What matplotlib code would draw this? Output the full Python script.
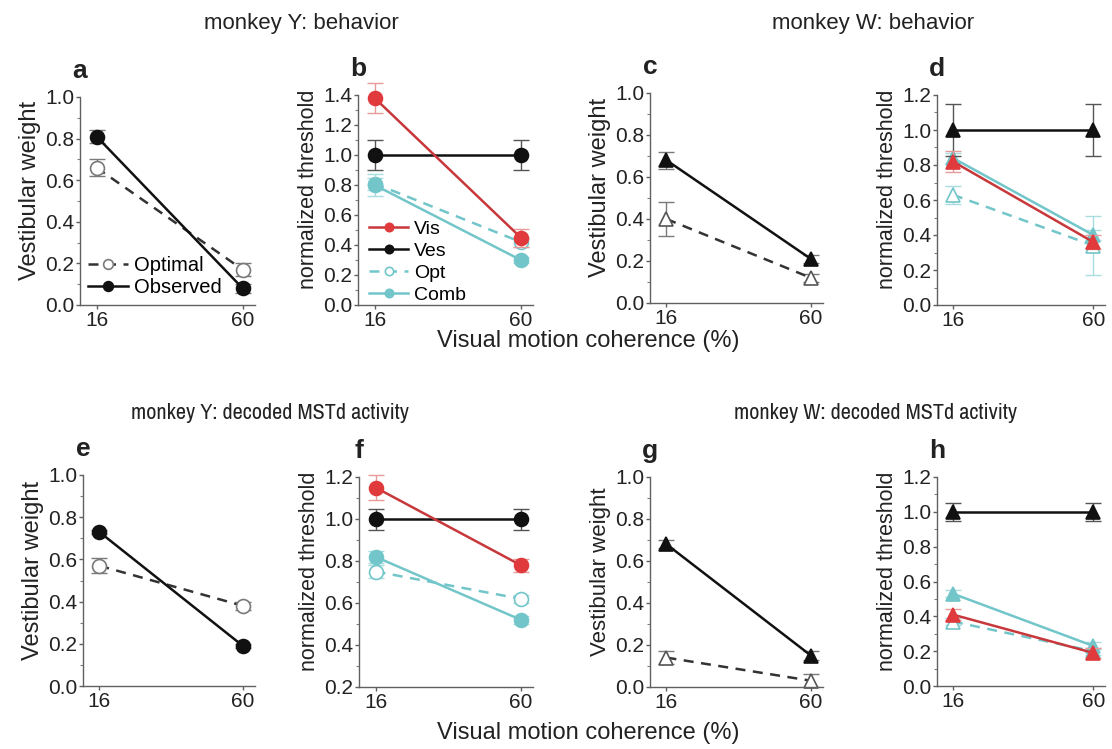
import matplotlib
matplotlib.use("Agg")
import matplotlib.pyplot as plt
from matplotlib import font_manager
from matplotlib.ticker import MultipleLocator, AutoMinorLocator

plt.rcParams['font.family'] = ['Liberation Sans', 'DejaVu Sans']

# visual motion coherence (%)
coherence = [16, 60]

# monkey Y behaviour: vestibular weights
a_opt, a_opt_err = [0.66, 0.17], [0.04, 0.03]
a_obs, a_obs_err = [0.81, 0.08], [0.03, 0.02]
# monkey Y behaviour: normalized thresholds
b_vis, b_vis_err = [1.38, 0.45], [0.10, 0.06]
b_ves, b_ves_err = [1.00, 1.00], [0.10, 0.10]
b_opt, b_opt_err = [0.81, 0.42], [0.04, 0.03]
b_comb, b_comb_err = [0.80, 0.30], [0.07, 0.02]
# monkey W behaviour
c_opt, c_opt_err = [0.40, 0.12], [0.08, 0.02]
c_obs, c_obs_err = [0.68, 0.21], [0.04, 0.02]
d_ves, d_ves_err = [1.00, 1.00], [0.15, 0.15]
d_vis, d_vis_err = [0.82, 0.36], [0.06, 0.04]
d_opt, d_opt_err = [0.63, 0.34], [0.05, 0.17]
d_comb, d_comb_err = [0.84, 0.40], [0.03, 0.03]
# monkey Y decoded MSTd
e_opt, e_opt_err = [0.57, 0.38], [0.035, 0.02]
e_obs, e_obs_err = [0.73, 0.19], [0.01, 0.01]
f_vis, f_vis_err = [1.15, 0.78], [0.06, 0.03]
f_ves, f_ves_err = [1.00, 1.00], [0.05, 0.05]
f_opt, f_opt_err = [0.75, 0.62], [0.03, 0.02]
f_comb, f_comb_err = [0.82, 0.52], [0.03, 0.02]
# monkey W decoded MSTd
g_opt, g_opt_err = [0.14, 0.03], [0.03, 0.03]
g_obs, g_obs_err = [0.68, 0.15], [0.02, 0.02]
h_ves, h_ves_err = [1.00, 1.00], [0.05, 0.05]
h_vis, h_vis_err = [0.41, 0.19], [0.03, 0.03]
h_opt, h_opt_err = [0.37, 0.20], [0.02, 0.02]
h_comb, h_comb_err = [0.53, 0.23], [0.02, 0.02]

RED = '#e03a3c'
RED_LINE = '#c8373a'
RED_ERR = '#e89a9a'
CYAN = '#72c6ca'
CYAN_ERR = '#a8dcde'
BLACK = '#111111'
GRAY = '#7a7a7a'
TXT = '#222222'

W, H = 1112, 749
fig = plt.figure(figsize=(W / 100, H / 100), dpi=100)


def narrow_font():
    # a condensed sans face for the lower headings, if one is installed
    for f in font_manager.fontManager.ttflist:
        if 'Narrow' in f.name and f.weight in (400, 'normal', 'regular') and f.style == 'normal':
            return font_manager.FontProperties(fname=f.fname, size=16)
    for f in font_manager.fontManager.ttflist:
        if 'Condensed' in f.fname and 'Bold' not in f.fname and 'Oblique' not in f.fname \
                and 'Sans' in f.fname and 'Mono' not in f.fname:
            return font_manager.FontProperties(fname=f.fname, size=15)
    return font_manager.FontProperties(family='Liberation Sans', size=14)


def make_axes(left, right, top, bottom):
    return fig.add_axes([left / W, 1 - bottom / H, (right - left) / W, (bottom - top) / H])


def style(ax, ylo, yhi, letter, ylabel, ysize):
    ax.set_ylim(ylo, yhi)
    ax.set_xlim(11.0, 63.7)
    ax.set_xticks(coherence)
    ax.yaxis.set_major_locator(MultipleLocator(0.2))
    ax.yaxis.set_minor_locator(AutoMinorLocator(2))
    ax.yaxis.set_major_formatter(plt.FormatStrFormatter('%.1f'))
    for s in ['top', 'right']:
        ax.spines[s].set_visible(False)
    for s in ['left', 'bottom']:
        ax.spines[s].set_color('#606060')
        ax.spines[s].set_linewidth(1.0)
    ax.tick_params(axis='both', which='major', length=3, width=1, color='#606060',
                   labelsize=15, labelcolor=TXT, pad=1)
    ax.tick_params(axis='y', which='minor', length=2, width=0.8, color='#808080')
    ax.patch.set_alpha(0)
    ax.set_ylabel(ylabel, fontsize=ysize, color=TXT, labelpad=3)
    ax.yaxis.label.set_y(0.55)
    pos = ax.get_position()
    fig.text(pos.x0, pos.y1 + 26 / H, letter, ha='center', va='center',
             fontsize=19, fontweight='bold', color=TXT)


def series(ax, y, err, color, ecolor, marker, filled, ls, z, lcolor=None):
    ax.errorbar(coherence, y, yerr=err, fmt='none', ecolor=ecolor, elinewidth=1.0,
                capsize=6, capthick=1.0, zorder=z)
    line, = ax.plot(coherence, y, ls=ls, color=lcolor or color, lw=1.8, marker=marker,
                    ms=10, mfc=color if filled else 'white', mec=color, mew=1.2,
                    zorder=z + 0.5)
    return line


DASH = (0, (4, 3))
VW = 'Vestibular weight'
NT = 'normalized threshold'

# a
ax = make_axes(80, 255, 97, 305)
l_opt = series(ax, a_opt, a_opt_err, GRAY, GRAY, 'o', False, DASH, 2, lcolor='#333333')
l_obs = series(ax, a_obs, a_obs_err, BLACK, GRAY, 'o', True, '-', 3)
style(ax, 0, 1.0, 'a', VW, 17)
ax.legend([l_opt, l_obs], ['Optimal', 'Observed'], loc='lower left', frameon=False,
          fontsize=14.5, markerscale=0.7, handlelength=2.0, handletextpad=0.3,
          labelspacing=0.15, borderaxespad=0.0, bbox_to_anchor=(0.0, 0.0))

# b
ax = make_axes(358, 533, 95, 305)
l3 = series(ax, b_opt, b_opt_err, CYAN, CYAN_ERR, 'o', False, DASH, 2)
l4 = series(ax, b_comb, b_comb_err, CYAN, CYAN_ERR, 'o', True, '-', 3)
l2 = series(ax, b_ves, b_ves_err, BLACK, '#555555', 'o', True, '-', 4)
l1 = series(ax, b_vis, b_vis_err, RED, RED_ERR, 'o', True, '-', 5, lcolor=RED_LINE)
style(ax, 0, 1.4, 'b', NT, 15.5)
ax.legend([l1, l2, l3, l4], ['Vis', 'Ves', 'Opt', 'Comb'], loc='lower left',
          frameon=False, fontsize=14, markerscale=0.6, handlelength=2.0,
          handletextpad=0.3, labelspacing=0.22, borderaxespad=0.0,
          bbox_to_anchor=(0.02, -0.03))

# c
ax = make_axes(650, 823, 93, 303)
series(ax, c_opt, c_opt_err, '#555555', GRAY, '^', False, DASH, 2, lcolor='#333333')
series(ax, c_obs, c_obs_err, BLACK, GRAY, '^', True, '-', 3)
style(ax, 0, 1.0, 'c', VW, 17)

# d
ax = make_axes(937, 1105, 95, 305)
series(ax, d_opt, d_opt_err, CYAN, CYAN_ERR, '^', False, DASH, 2)
series(ax, d_comb, d_comb_err, CYAN, CYAN_ERR, '^', True, '-', 3)
series(ax, d_ves, d_ves_err, BLACK, '#555555', '^', True, '-', 4)
series(ax, d_vis, d_vis_err, RED, RED_ERR, '^', True, '-', 5, lcolor=RED_LINE)
style(ax, 0, 1.2, 'd', NT, 15.5)

# e
ax = make_axes(83, 255, 475, 686)
series(ax, e_opt, e_opt_err, GRAY, GRAY, 'o', False, DASH, 2, lcolor='#333333')
series(ax, e_obs, e_obs_err, BLACK, GRAY, 'o', True, '-', 3)
style(ax, 0, 1.0, 'e', VW, 17)

# f
ax = make_axes(359, 533, 477, 687)
series(ax, f_opt, f_opt_err, CYAN, CYAN_ERR, 'o', False, DASH, 2)
series(ax, f_comb, f_comb_err, CYAN, CYAN_ERR, 'o', True, '-', 3)
series(ax, f_ves, f_ves_err, BLACK, '#555555', 'o', True, '-', 4)
series(ax, f_vis, f_vis_err, RED, RED_ERR, 'o', True, '-', 5, lcolor=RED_LINE)
style(ax, 0.2, 1.2, 'f', NT, 15.5)

# g
ax = make_axes(650, 823, 477, 687)
series(ax, g_opt, g_opt_err, '#555555', GRAY, '^', False, DASH, 2, lcolor='#333333')
series(ax, g_obs, g_obs_err, BLACK, GRAY, '^', True, '-', 3)
style(ax, 0, 1.0, 'g', VW, 16)

# h
ax = make_axes(937, 1105, 477, 686)
series(ax, h_opt, h_opt_err, CYAN, CYAN_ERR, '^', False, DASH, 2)
series(ax, h_comb, h_comb_err, CYAN, CYAN_ERR, '^', True, '-', 3)
series(ax, h_ves, h_ves_err, BLACK, '#555555', '^', True, '-', 4)
series(ax, h_vis, h_vis_err, RED, RED_ERR, '^', True, '-', 5, lcolor=RED_LINE)
style(ax, 0, 1.2, 'h', NT, 15.5)

# let markers and error bars spill past the axes limits
for a in fig.axes:
    for art in a.get_children():
        art.set_clip_on(False)

fig.text(301 / W, 1 - 24 / H, 'monkey Y: behavior', ha='center', va='center',
         fontsize=16, color=TXT)
fig.text(873 / W, 1 - 24 / H, 'monkey W: behavior', ha='center', va='center',
         fontsize=16, color=TXT)
fig.text(588 / W, 1 - 341 / H, 'Visual motion coherence (%)', ha='center',
         va='center', fontsize=17, color=TXT)
nprop = narrow_font()
fig.text(270 / W, 1 - 413 / H, 'monkey Y: decoded MSTd activity', ha='center',
         va='center', color=TXT, fontproperties=nprop)
fig.text(875 / W, 1 - 413 / H, 'monkey W: decoded MSTd activity', ha='center',
         va='center', color=TXT, fontproperties=nprop)
fig.text(588 / W, 1 - 733 / H, 'Visual motion coherence (%)', ha='center',
         va='center', fontsize=17, color=TXT)

fig.savefig('out.png', dpi=100, facecolor='white')
